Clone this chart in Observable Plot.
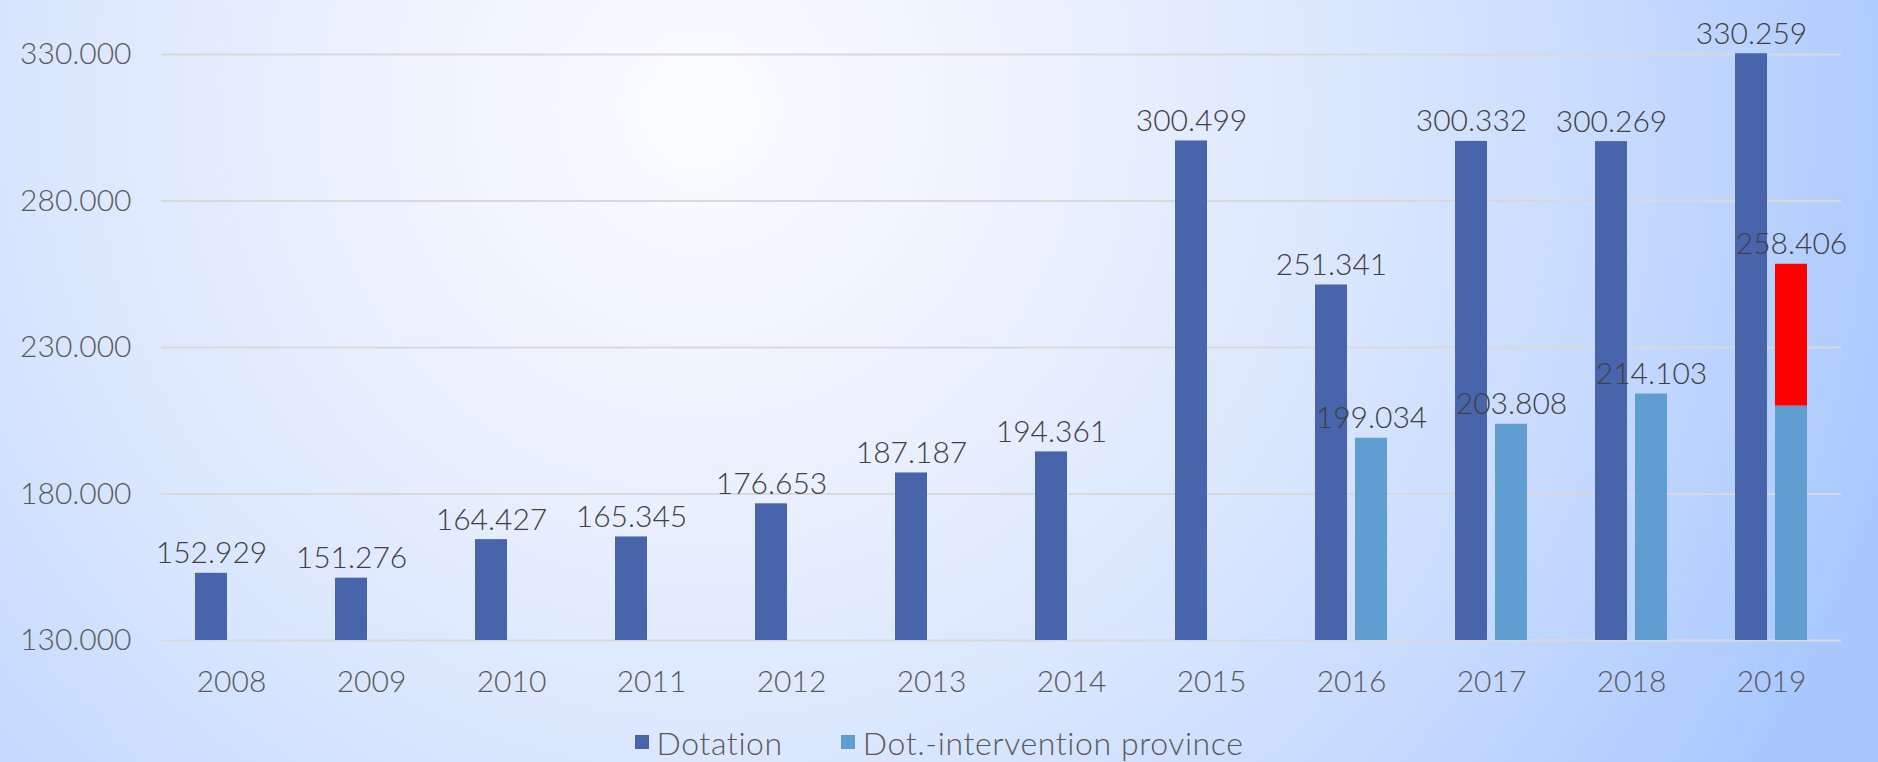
<!DOCTYPE html>
<html>
<head>
<meta charset="utf-8">
<script src="https://cdn.jsdelivr.net/npm/d3@7"></script>
<script src="https://cdn.jsdelivr.net/npm/@observablehq/plot@0.6"></script>
<style>
  html, body { margin: 0; padding: 0; }
  body {
    width: 1878px; height: 762px; overflow: hidden;
    background: radial-gradient(circle at 700px 110px, #fbfcff 0px, #eef3ff 300px, #dbe7fe 650px, #c5d9ff 950px, #a8c8ff 1250px);
    font-family: Lato, "Open Sans", sans-serif;
    font-weight: 300;
  }
  #legend {
    display: flex; justify-content: center; align-items: center;
    height: 64px; font-size: 32px; letter-spacing: 0.6px; color: #595959; gap: 58px;
  }
  #legend .item { display: flex; align-items: center; gap: 8px; }
  #legend .sw { width: 14px; height: 14px; display: inline-block; }
</style>
</head>
<body>
<div id="chart"></div>
<div id="legend"></div>
<script>
// ---- data ----
const years = ["2008","2009","2010","2011","2012","2013","2014","2015","2016","2017","2018","2019"];
const seriesNames = ["Dotation", "Dot.-intervention province"];
const dotation = [152929, 151276, 164427, 165345, 176653, 187187, 194361, 300499, 251341, 300332, 300269, 330259];
const province = [null, null, null, null, null, null, null, null, 199034, 203808, 214103, 210000];
const provinceLabels = [null, null, null, null, null, null, null, null, 199034, 203808, 214103, 258406];
const extraYears = ["2019"];
const extraBase = [210000];
const extraTop = [258406];
const yTicks = [130000, 180000, 230000, 280000, 330000];
const seriesColors = ["#4865ac", "#609dd1"];
const extraColor = "#ff0000";

// ---- build tables ----
const fmt = d3.formatLocale({decimal: ",", thousands: ".", grouping: [3], currency: ["", " €"]}).format(",d");
const bars = [];
const labels = [];
years.forEach((year, i) => {
  bars.push({year, series: seriesNames[0], value: dotation[i]});
  labels.push({year, series: seriesNames[0], value: dotation[i]});
  if (province[i] != null) bars.push({year, series: seriesNames[1], value: province[i]});
  if (provinceLabels[i] != null) labels.push({year, series: seriesNames[1], value: provinceLabels[i]});
});
const extra = extraYears.map((year, i) => ({year, series: seriesNames[1], base: extraBase[i], top: extraTop[i]}));
const yMin = yTicks[0];

const chart = Plot.plot({
  width: 1878,
  height: 710,
  marginLeft: 161,
  marginRight: 37,
  marginTop: 54,
  marginBottom: 70,
  style: {fontFamily: "Lato, 'Open Sans', sans-serif", fontSize: "30px", fontWeight: 300, color: "#595959", background: "transparent", overflow: "visible"},
  fx: {domain: years, padding: 0, axis: "bottom", tickSize: 0, tickPadding: 30, label: null},
  x: {domain: seriesNames, axis: null, paddingInner: 0.2, paddingOuter: 0.85},
  y: {domain: [yMin, yTicks[yTicks.length - 1]], ticks: yTicks, tickFormat: fmt, tickSize: 0, tickPadding: 30, label: null, grid: false},
  color: {domain: seriesNames, range: seriesColors},
  marks: [
    Plot.gridY(yTicks, {stroke: "#d9d9d9", strokeOpacity: 1, strokeWidth: 2}),
    Plot.barY(bars, {fx: "year", x: "series", y1: () => yMin, y2: "value", fill: "series"}),
    Plot.barY(extra, {fx: "year", x: "series", y1: "base", y2: "top", fill: extraColor}),
    Plot.text(labels, {fx: "year", x: "series", y: "value", text: d => fmt(d.value), lineAnchor: "bottom", dy: -10, fill: "#404040", fontSize: 30, fontWeight: 300})
  ]
});
document.getElementById("chart").appendChild(chart);

const legend = document.getElementById("legend");
seriesNames.forEach((name, i) => {
  const item = document.createElement("div");
  item.className = "item";
  const sw = document.createElement("span");
  sw.className = "sw";
  sw.style.background = seriesColors[i];
  const tx = document.createElement("span");
  tx.textContent = name;
  item.appendChild(sw);
  item.appendChild(tx);
  legend.appendChild(item);
});
</script>
</body>
</html>
